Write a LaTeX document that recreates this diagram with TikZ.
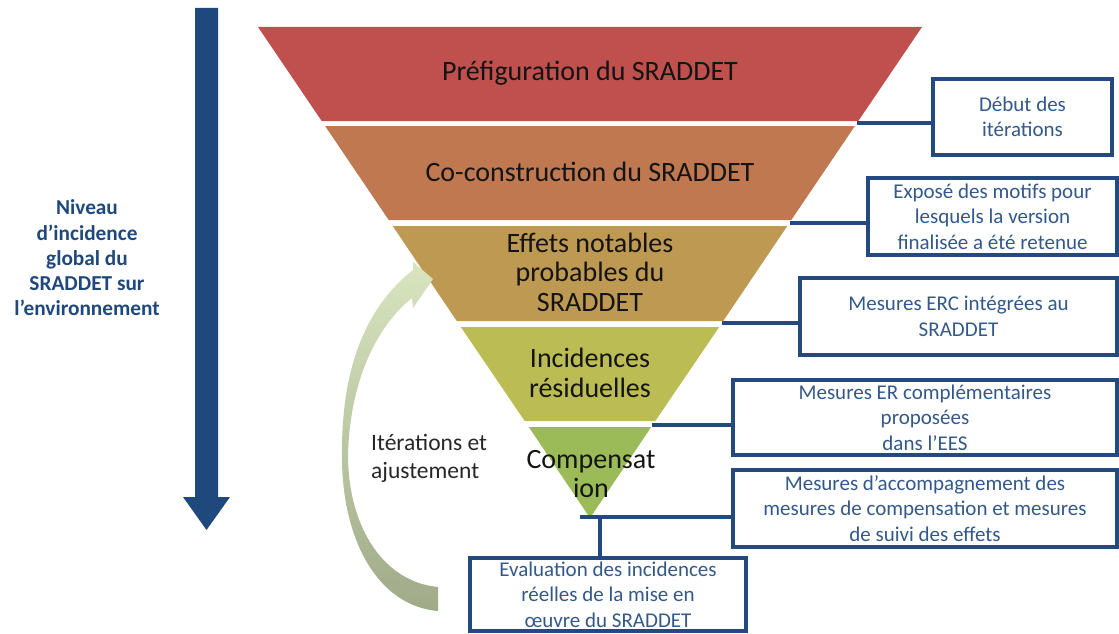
\documentclass[tikz,border=0pt]{standalone}
\usepackage{fontspec}
\setmainfont{Carlito}
\definecolor{navy}{HTML}{1F497D}
\definecolor{boxline}{HTML}{23497E}
\definecolor{boxtext}{HTML}{33598A}
\definecolor{layA}{HTML}{C0504D}
\definecolor{layB}{HTML}{BF7850}
\definecolor{layC}{HTML}{BE9952}
\definecolor{layD}{HTML}{BCBC55}
\definecolor{layE}{HTML}{9BBB59}
\definecolor{loopTop}{HTML}{D8E5BF}
\definecolor{loopBot}{HTML}{A0AA88}
\begin{document}
\begin{tikzpicture}[x=1pt,y=-1pt,
  lbl/.style={font=\fontsize{28}{29.5}\selectfont, text=black!92, align=center, inner sep=0pt},
  infobox/.style={draw=boxline, line width=3.5pt, fill=white, inner sep=0pt,
    font=\fontsize{21}{25.5}\selectfont, text=boxtext, align=center},
  link/.style={draw=boxline, line width=3.5pt}]
\useasboundingbox (0,0) rectangle (1119,634);

% vertical axis arrow
\fill[navy] (195,8) -- (218,8) -- (218,497) -- (230,497) -- (206.5,530)
  -- (183,497) -- (195,497) -- cycle;
\node[font=\bfseries\fontsize{21.3}{25.2}\selectfont, text=navy, align=center, inner sep=0pt]
  (axis) at (87,258) {Niveau\\d’incidence\\global du\\SRADDET sur\\l’environnement};

% funnel layers (apex at (590,518), half-width = 0.6762*(518-y))
\fill[layA] (258,27) -- (922,27) -- (858.3,121) -- (321.7,121) -- cycle;
\fill[layB] (325.1,126) -- (854.9,126) -- (791.3,220) -- (388.7,220) -- cycle;
\fill[layC] (392.7,226) -- (787.3,226) -- (723.2,321) -- (456.8,321) -- cycle;
\fill[layD] (460.8,327) -- (719.2,327) -- (655.3,421) -- (524.7,421) -- cycle;
\fill[layE] (528.8,427) -- (651.2,427) -- (590,518) -- cycle;

\node[lbl] (l1) at (590,73) {Préfiguration du SRADDET};
\node[lbl] (l2) at (590,172) {Co-construction du SRADDET};
\node[lbl] (l3) at (590,272) {Effets notables\\probables du\\SRADDET};
\node[lbl] (l4) at (590,373) {Incidences\\résiduelles};
\node[lbl] (l5) at (591,474) {Compensat\\ion};

% iteration loop arrow
\path[top color=loopTop, bottom color=loopBot]
  (438,611) .. controls (378,606) and (342,540) .. (342,457)
  .. controls (341,375) and (362,310) .. (413,270)
  -- (413,262) -- (433,279) -- (413,308) -- (412,298)
  .. controls (372,330) and (349,390) .. (348,457)
  .. controls (349,530) and (385,582) .. (438,587) -- cycle;
\node[font=\fontsize{23.5}{28}\selectfont, text=black!85, align=left, inner sep=0pt, anchor=west]
  (iter) at (371,458) {Itérations et\\ajustement};

% information boxes
\node[infobox, minimum width=179, minimum height=76] (b1) at (1022.5,117)
  {Début des\\itérations};
\node[infobox, minimum width=249, minimum height=77] (b2) at (992.5,216.5)
  {Exposé des motifs pour\\lesquels la version\\finalisée a été retenue};
\node[infobox, minimum width=317, minimum height=77] (b3) at (958.5,316.5)
  {Mesures ERC intégrées au\\SRADDET};
\node[infobox, minimum width=384, minimum height=75] (b4) at (925,417.5)
  {Mesures ER complémentaires\\proposées\\dans l’EES};
\node[infobox, minimum width=384, minimum height=77] (b5) at (925,508.5)
  {Mesures d’accompagnement des\\mesures de compensation et mesures\\de suivi des effets};
\node[infobox, minimum width=276, minimum height=73] (b6) at (608,594.5)
  {Evaluation des incidences\\réelles de la mise en\\œuvre du SRADDET};

% connectors from the funnel edge
\coordinate (c1) at (857,123);
\coordinate (c2) at (790,223);
\coordinate (c3) at (722,323);
\coordinate (c4) at (652,425);
\coordinate (c5) at (580,517);
\coordinate (c6) at (600,517);
\draw[link] (c1) -- (c1 -| b1.west);
\draw[link] (c2) -- (c2 -| b2.west);
\draw[link] (c3) -- (c3 -| b3.west);
\draw[link] (c4) -- (c4 -| b4.west);
\draw[link] (c5) -- (c5 -| b5.west);
\draw[link] (c6) -- (c6 |- b6.north);
\end{tikzpicture}
\end{document}
